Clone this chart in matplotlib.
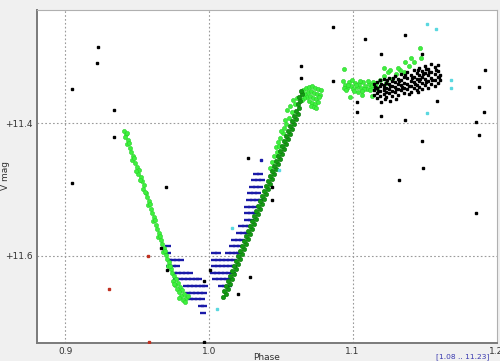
import matplotlib
matplotlib.use("Agg")
import matplotlib.pyplot as plt

# light green observer, descending branch
lg1_phase = [0.9409, 0.9423, 0.9416, 0.9437, 0.9430, 0.9451, 0.9458, 0.9472, 0.9465, 0.9486,
             0.9500, 0.9514, 0.9507, 0.9528, 0.9535, 0.9549, 0.9542, 0.9563, 0.9570, 0.9584,
             0.9577, 0.9597, 0.9604, 0.9618, 0.9611, 0.9632, 0.9639, 0.9653, 0.9646, 0.9667,
             0.9674, 0.9688, 0.9681, 0.9702, 0.9709, 0.9723, 0.9716, 0.9737, 0.9744, 0.9758,
             0.9772, 0.9751, 0.9786, 0.9765, 0.9800, 0.9779, 0.9814, 0.9793, 0.9827, 0.9807,
             0.9841, 0.9821, 0.9834, 0.9855,
             0.9430, 0.9444, 0.9479, 0.9493, 0.9521, 0.9556, 0.9591, 0.9625, 0.9660, 0.9695,
             0.9730, 0.9758, 0.9793]
lg1_mag = [11.412, 11.416, 11.421, 11.425, 11.431, 11.437, 11.443, 11.449, 11.455, 11.460,
           11.466, 11.471, 11.477, 11.481, 11.487, 11.493, 11.499, 11.505, 11.511, 11.517,
           11.523, 11.530, 11.536, 11.542, 11.548, 11.554, 11.560, 11.566, 11.572, 11.576,
           11.582, 11.588, 11.595, 11.599, 11.605, 11.610, 11.616, 11.620, 11.626, 11.631,
           11.635, 11.638, 11.641, 11.644, 11.647, 11.650, 11.652, 11.655, 11.658, 11.661,
           11.664, 11.667, 11.670, 11.661,
           11.415, 11.430, 11.452, 11.472, 11.486, 11.504, 11.522, 11.546, 11.570, 11.593,
           11.616, 11.643, 11.664]

# light green, top of the rise
lg2_phase = [1.0657, 1.0678, 1.0699, 1.0720, 1.0741, 1.0762, 1.0782, 1.0671, 1.0692, 1.0713,
             1.0734, 1.0755, 1.0775, 1.0685, 1.0706, 1.0727, 1.0748, 1.0769, 1.0699, 1.0720,
             1.0741, 1.0762, 1.0713, 1.0734, 1.0748, 1.0664, 1.0650,
             1.0580, 1.0559, 1.0538, 1.0525, 1.0518, 1.0497, 1.0483, 1.0469, 1.0476, 1.0455,
             1.0441, 1.0427, 1.0545, 1.0566, 1.0601, 1.0587, 1.0615, 1.0532, 1.0504, 1.0490]
lg2_mag = [11.350, 11.347, 11.345, 11.344, 11.347, 11.348, 11.350, 11.356, 11.353, 11.351,
           11.354, 11.356, 11.357, 11.360, 11.359, 11.362, 11.363, 11.360, 11.366, 11.369,
           11.371, 11.368, 11.374, 11.375, 11.377, 11.362, 11.365,
           11.383, 11.392, 11.401, 11.407, 11.415, 11.422, 11.428, 11.436, 11.443, 11.449,
           11.458, 11.468, 11.380, 11.374, 11.371, 11.365, 11.362, 11.395, 11.412, 11.434]

# light green, maximum plateau
lg3_phase = [1.0936, 1.0950, 1.0964, 1.0978, 1.0991, 1.1005, 1.1019, 1.1033, 1.1047, 1.1061,
             1.1075, 1.1089, 1.1103, 1.1117, 1.1131, 1.1145, 1.1159, 1.1173, 1.0943, 1.0971,
             1.0998, 1.1026, 1.1054, 1.1082, 1.1110, 1.1138, 1.1166, 1.0957, 1.1012, 1.1068,
             1.1124,
             1.1194, 1.1221, 1.1249, 1.1277, 1.1305, 1.1333, 1.1361, 1.1389, 1.1403, 1.1368,
             1.1424, 1.1472, 1.1479, 1.1319, 1.1235, 1.1263,
             1.0943, 1.1215, 1.0985, 1.1068, 1.1040, 1.1138]
lg3_mag = [11.336, 11.342, 11.347, 11.338, 11.344, 11.348, 11.339, 11.345, 11.341, 11.347,
           11.338, 11.344, 11.348, 11.341, 11.345, 11.338, 11.344, 11.347, 11.347, 11.342,
           11.335, 11.342, 11.336, 11.348, 11.336, 11.342, 11.339, 11.350, 11.351, 11.351,
           11.350,
           11.335, 11.329, 11.323, 11.333, 11.326, 11.320, 11.323, 11.313, 11.301, 11.307,
           11.307, 11.286, 11.301, 11.316, 11.339, 11.320,
           11.318, 11.316, 11.360, 11.357, 11.353, 11.359]

# dark green observer, rising branch
dg_phase = [1.0099, 1.0120, 1.0106, 1.0134, 1.0120, 1.0148, 1.0134, 1.0162, 1.0148, 1.0176,
            1.0162, 1.0190, 1.0176, 1.0204, 1.0190, 1.0218, 1.0204, 1.0232, 1.0218, 1.0246,
            1.0232, 1.0260, 1.0246, 1.0274, 1.0260, 1.0288, 1.0274, 1.0301, 1.0288, 1.0315,
            1.0301, 1.0329, 1.0315, 1.0343, 1.0329, 1.0357, 1.0343, 1.0371, 1.0357, 1.0385,
            1.0371, 1.0399, 1.0385, 1.0413, 1.0399, 1.0427, 1.0413, 1.0441, 1.0427, 1.0455,
            1.0441, 1.0469, 1.0455, 1.0483, 1.0469, 1.0497, 1.0483, 1.0511, 1.0497, 1.0525,
            1.0511, 1.0538, 1.0525, 1.0552, 1.0538, 1.0566, 1.0552, 1.0580, 1.0566, 1.0594,
            1.0580, 1.0608, 1.0594, 1.0622, 1.0608, 1.0629, 1.0622, 1.0636, 1.0629, 1.0650,
            1.0643]
dg_mag = [11.662, 11.658, 11.653, 11.650, 11.646, 11.643, 11.638, 11.635, 11.631, 11.628,
          11.623, 11.620, 11.616, 11.613, 11.608, 11.605, 11.601, 11.598, 11.593, 11.590,
          11.585, 11.582, 11.578, 11.575, 11.570, 11.567, 11.563, 11.560, 11.555, 11.552,
          11.548, 11.545, 11.540, 11.537, 11.533, 11.530, 11.525, 11.522, 11.517, 11.514,
          11.510, 11.507, 11.502, 11.499, 11.495, 11.492, 11.487, 11.484, 11.480, 11.477,
          11.472, 11.469, 11.465, 11.461, 11.457, 11.454, 11.449, 11.446, 11.442, 11.439,
          11.434, 11.431, 11.427, 11.424, 11.419, 11.416, 11.412, 11.409, 11.404, 11.401,
          11.397, 11.394, 11.389, 11.386, 11.381, 11.377, 11.371, 11.366, 11.360, 11.356,
          11.351]

# blue observer, quantised magnitudes: (mag, phases)
blue_rows = [
    (11.476, [1.0329, 1.0357]),
    (11.486, [1.0315, 1.0343, 1.0371]),
    (11.496, [1.0301, 1.0329, 1.0357]),
    (11.506, [1.0288, 1.0315, 1.0343]),
    (11.516, [1.0281, 1.0308, 1.0336, 1.0364]),
    (11.526, [1.0267, 1.0294, 1.0322]),
    (11.536, [1.0267, 1.0294, 1.0322]),
    (11.546, [1.0267, 1.0294]),
    (11.556, [1.0225, 1.0253, 1.0281]),
    (11.566, [1.0211, 1.0239, 1.0267]),
    (11.576, [1.0176, 1.0204, 1.0232]),
    (11.586, [0.9716, 1.0162, 1.0190, 1.0218]),
    (11.596, [0.9716, 1.0037, 1.0064, 1.0134, 1.0162, 1.0190, 1.0211]),
    (11.606, [0.9723, 0.9751, 0.9779, 0.9807, 1.0037, 1.0064, 1.0092, 1.0120, 1.0148, 1.0176]),
    (11.616, [0.9723, 0.9751, 0.9779, 1.0037, 1.0064, 1.0092, 1.0120, 1.0148, 1.0176]),
    (11.626, [0.9758, 0.9786, 0.9814, 0.9841, 0.9869, 1.0030, 1.0057, 1.0085, 1.0113, 1.0141, 1.0169]),
    (11.636, [0.9772, 0.9800, 0.9827, 0.9855, 0.9883, 0.9911, 0.9932, 1.0044, 1.0071, 1.0099, 1.0127, 1.0155]),
    (11.646, [0.9841, 0.9869, 0.9897, 0.9925, 0.9953, 0.9974, 1.0085, 1.0113, 1.0141]),
    (11.656, [0.9855, 0.9883, 0.9911, 0.9939, 0.9967]),
    (11.666, [0.9869, 0.9897, 0.9925, 0.9953]),
    (11.676, [0.9946, 0.9967]),
    (11.686, [0.9960]),
]
blue_single_phase = [1.0364]
blue_single_mag = [11.455]

# black observer, maximum cluster
bk_phase = [1.1152, 1.1152, 1.1152,
            1.1173, 1.1173, 1.1173, 1.1173, 1.1194, 1.1194, 1.1194, 1.1194,
            1.1215, 1.1215, 1.1215, 1.1215, 1.1235, 1.1235, 1.1235, 1.1235,
            1.1256, 1.1256, 1.1256, 1.1256, 1.1277, 1.1277, 1.1277, 1.1277,
            1.1298, 1.1298, 1.1298, 1.1298, 1.1319, 1.1319, 1.1319, 1.1319,
            1.1340, 1.1340, 1.1340, 1.1340, 1.1361, 1.1361, 1.1361, 1.1361,
            1.1382, 1.1382, 1.1382, 1.1382, 1.1403, 1.1403, 1.1403, 1.1403,
            1.1424, 1.1424, 1.1424, 1.1424, 1.1445, 1.1445, 1.1445, 1.1445,
            1.1465, 1.1465, 1.1465, 1.1465, 1.1486, 1.1486, 1.1486, 1.1486,
            1.1507, 1.1507, 1.1507, 1.1507, 1.1528, 1.1528, 1.1528, 1.1528,
            1.1549, 1.1549, 1.1549, 1.1549, 1.1570, 1.1570, 1.1570, 1.1570,
            1.1591, 1.1591, 1.1591, 1.1591, 1.1605, 1.1605,
            1.1159, 1.1180, 1.1201, 1.1221, 1.1242, 1.1263, 1.1284, 1.1305, 1.1326, 1.1347,
            1.1368, 1.1389, 1.1410, 1.1431, 1.1452, 1.1472, 1.1493, 1.1514, 1.1535, 1.1556,
            1.1577, 1.1598, 1.1514, 1.1458, 1.1389, 1.1305, 1.1228]
bk_mag = [11.341, 11.350, 11.357,
          11.338, 11.347, 11.354, 11.362, 11.335, 11.344, 11.351, 11.359,
          11.333, 11.342, 11.350, 11.356, 11.339, 11.347, 11.353, 11.360,
          11.332, 11.341, 11.348, 11.354, 11.336, 11.344, 11.351, 11.359,
          11.329, 11.338, 11.345, 11.353, 11.333, 11.341, 11.348, 11.357,
          11.326, 11.335, 11.342, 11.350, 11.330, 11.339, 11.347, 11.354,
          11.323, 11.332, 11.341, 11.348, 11.327, 11.336, 11.344, 11.353,
          11.320, 11.330, 11.338, 11.347, 11.324, 11.333, 11.342, 11.350,
          11.316, 11.327, 11.336, 11.345, 11.321, 11.330, 11.339, 11.348,
          11.313, 11.324, 11.333, 11.342, 11.318, 11.327, 11.336, 11.347,
          11.310, 11.323, 11.332, 11.341, 11.315, 11.326, 11.335, 11.344,
          11.312, 11.321, 11.330, 11.339, 11.327, 11.335,
          11.345, 11.351, 11.341, 11.347, 11.335, 11.344, 11.332, 11.348, 11.336, 11.345,
          11.327, 11.344, 11.332, 11.341, 11.320, 11.333, 11.326, 11.338, 11.323, 11.335,
          11.320, 11.330, 11.318, 11.353, 11.356, 11.363, 11.363]

# scattered black points
out_phase = [0.9228, 0.9221, 0.9047, 0.9340, 0.9340, 1.0274, 1.0866, 1.1089, 1.1368, 1.1201,
             1.1486, 1.0643, 1.0643, 1.0866, 1.1918, 1.1877, 1.1912, 1.1856, 1.1877, 1.1033,
             1.1033, 1.1201, 1.1368, 1.1486, 1.1493, 1.1326, 1.1856, 1.0441, 1.0441, 1.0288,
             0.9047, 0.9667, 0.9709, 1.0204, 0.9967, 1.0009, 0.9967, 1.1201, 1.1263, 1.1584,
             0.9702]
out_mag = [11.285, 11.309, 11.348, 11.380, 11.421, 11.452, 11.254, 11.273, 11.267, 11.295,
           11.295, 11.313, 11.332, 11.336, 11.319, 11.345, 11.383, 11.398, 11.418, 11.368,
           11.383, 11.389, 11.395, 11.427, 11.468, 11.486, 11.536, 11.496, 11.516, 11.632,
           11.490, 11.588, 11.622, 11.658, 11.730, 11.622, 11.638, 11.368, 11.366, 11.366,
           11.496]

red_phase = [0.9577, 0.9305, 0.9584]
red_mag = [11.601, 11.650, 11.730]

cyan_phase = [1.1521, 1.1577, 1.1682, 1.1682, 1.1521, 1.0490, 1.0162, 1.0057]
cyan_mag = [11.250, 11.257, 11.335, 11.347, 11.384, 11.471, 11.558, 11.681]

x_ticks = [0.9, 1.0, 1.1, 1.2]
x_labels = ["0.9", "1.0", "1.1", "1.2"]
y_ticks = [11.4, 11.6]
y_labels = ["+11.4", "+11.6"]


def main():
    fig = plt.figure(figsize=(5.0, 3.61), dpi=100, facecolor="#f0f0f0")
    ax = fig.add_axes([0.074, 0.050, 0.920, 0.922])
    ax.set_facecolor("white")

    ax.set_xlim(0.8803, 1.2005)
    ax.set_ylim(11.732, 11.229)

    for x in x_ticks[:-1]:
        ax.axvline(x, color="#9a9a9a", linestyle=(0, (1.5, 2)), linewidth=0.8, zorder=0)
    for y in y_ticks:
        ax.axhline(y, color="#9a9a9a", linestyle=(0, (1.5, 2)), linewidth=0.8, zorder=0)

    for mag, phases in blue_rows:
        ax.plot(phases, [mag] * len(phases), linestyle="none", marker="_",
                markersize=4.6, markeredgewidth=1.7, color="#1a1aa8", zorder=2)
    ax.plot(blue_single_phase, blue_single_mag, linestyle="none", marker="s",
            markersize=2.0, color="#1a1aa8", zorder=2)

    green_kw = dict(linestyle="none", marker="o", markersize=3.0,
                    markerfacecolor="#3ef03e", markeredgecolor="#2ad02a",
                    markeredgewidth=0.4, zorder=3)
    ax.plot(lg1_phase, lg1_mag, **green_kw)
    ax.plot(lg2_phase, lg2_mag, **green_kw)
    ax.plot(lg3_phase, lg3_mag, **green_kw)

    ax.plot(dg_phase, dg_mag, linestyle="none", marker="o", markersize=3.2,
            markerfacecolor="#139a13", markeredgecolor="#0c7a0c",
            markeredgewidth=0.4, zorder=4)

    ax.plot(bk_phase, bk_mag, linestyle="none", marker="s", markersize=1.8,
            color="black", zorder=5)
    ax.plot(out_phase, out_mag, linestyle="none", marker="s", markersize=1.8,
            color="black", zorder=5)
    ax.plot(red_phase, red_mag, linestyle="none", marker="s", markersize=1.8,
            color="#c03020", zorder=5)
    ax.plot(cyan_phase, cyan_mag, linestyle="none", marker="s", markersize=2.0,
            color="#5ad8e0", zorder=5)

    ax.set_xticks(x_ticks)
    ax.set_xticklabels(x_labels)
    ax.set_yticks(y_ticks)
    ax.set_yticklabels(y_labels)
    ax.tick_params(axis="both", length=0, labelsize=6.5, colors="#333333", pad=3)

    for side in ("left", "bottom"):
        ax.spines[side].set_color("#7a7a7a")
        ax.spines[side].set_linewidth(1.4)
    for side in ("top", "right"):
        ax.spines[side].set_color("#b0b0b0")
        ax.spines[side].set_linewidth(0.8)

    fig.text(0.534, -0.004, "Phase", fontsize=6.5, color="#333333", ha="center", va="bottom")
    fig.text(0.012, 0.513, "V mag", fontsize=6.5, color="#333333", rotation=90,
             ha="center", va="center")
    fig.text(0.926, 0.011, "[1.08 .. 11.23]", fontsize=5.4, color="#3a3ab0",
             ha="center", va="center")

    fig.savefig("out.png", dpi=100, facecolor=fig.get_facecolor())


if __name__ == "__main__":
    main()
